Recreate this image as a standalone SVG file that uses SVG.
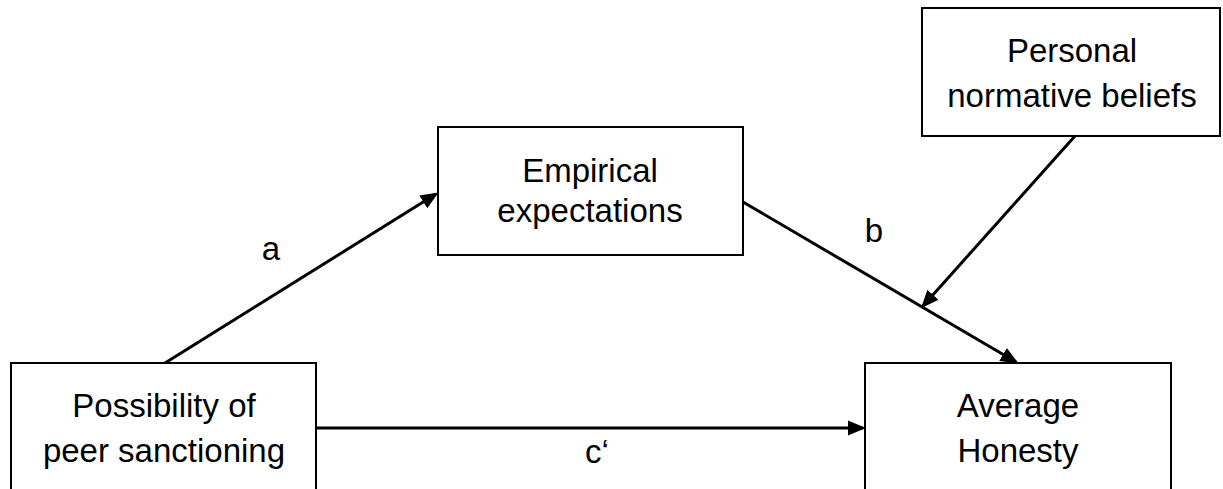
<svg xmlns="http://www.w3.org/2000/svg" width="1223" height="489" viewBox="0 0 1223 489">
<style>
.box{fill:#fff;stroke:#000;stroke-width:2}
.t{font-family:"Liberation Sans",Arial,sans-serif;font-size:33px;fill:#000;text-anchor:middle}
.c{stroke:#000;stroke-width:3;fill:none;marker-end:url(#ah)}
</style>
<defs>
<marker id="ah" markerWidth="6" markerHeight="6" refX="5" refY="3" orient="auto" markerUnits="strokeWidth">
<path d="M0,0.5 L6,3 L0,5.5 Z" fill="#000"/>
</marker>
</defs>
<rect width="1223" height="489" fill="#fff"/>
<g id="connectors">
<line class="c" x1="165" y1="363" x2="436" y2="194"/>
<line class="c" x1="743" y1="202" x2="1016" y2="362"/>
<line class="c" x1="1075" y1="136" x2="923" y2="306"/>
<line class="c" x1="316" y1="428" x2="863" y2="428"/>
<text class="t" x="271" y="260">a</text>
<text class="t" x="874" y="242">b</text>
<text class="t" x="597" y="463">c‘</text>
</g>
<g id="node-possibility">
<rect class="box" x="11" y="363" width="305" height="140"/>
<text class="t" x="164" y="417">Possibility of</text>
<text class="t" x="164" y="462">peer sanctioning</text>
</g>
<g id="node-empirical">
<rect class="box" x="438" y="127" width="305" height="128"/>
<text class="t" x="590" y="182">Empirical</text>
<text class="t" x="590" y="222">expectations</text>
</g>
<g id="node-personal">
<rect class="box" x="922" y="8" width="298" height="128"/>
<text class="t" x="1072" y="62">Personal</text>
<text class="t" x="1072" y="107">normative beliefs</text>
</g>
<g id="node-honesty">
<rect class="box" x="865" y="363" width="306" height="140"/>
<text class="t" x="1018" y="417">Average</text>
<text class="t" x="1018" y="462">Honesty</text>
</g>
</svg>
